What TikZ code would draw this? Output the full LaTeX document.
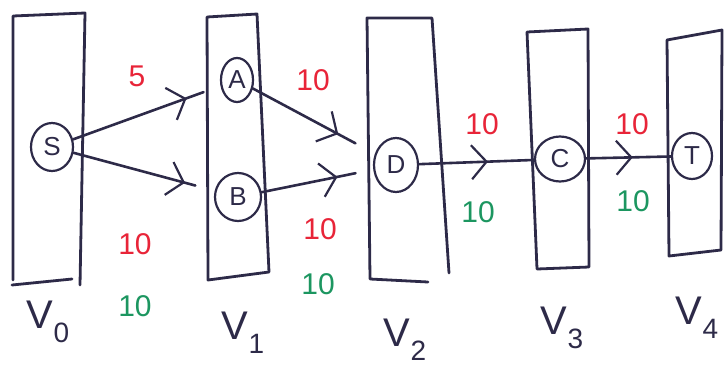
\documentclass[tikz,border=0pt]{standalone}
\usepackage{fontspec}
\setmainfont{Liberation Sans}
\usetikzlibrary{shapes.geometric,decorations.markings,arrows.meta}
\definecolor{ink}{RGB}{45,42,72}
\definecolor{capred}{RGB}{232,36,56}
\definecolor{flowgreen}{RGB}{28,150,96}
\tikzset{
  layer/.style={draw=ink, line width=2.8pt, line join=round, line cap=round},
  vtx/.style={draw=ink, line width=2.2pt, ellipse, inner sep=0pt, text=ink, font=\fontsize{26}{26}\selectfont},
  edge/.style={draw=ink, line width=2.6pt, line cap=round, postaction={decorate},
    decoration={markings, mark=at position #1 with {\arrow{Straight Barb[length=15pt,width=34pt,line width=2.2pt]}}}},
  caplabel/.style={text=capred, font=\fontsize{30}{30}\selectfont},
  flowlabel/.style={text=flowgreen, font=\fontsize{30}{30}\selectfont},
  lvl/.style={text=ink, font=\fontsize{40}{40}\selectfont}
}
\newcommand{\lvlsub}[1]{\raisebox{-0.35em}{\fontsize{28}{28}\selectfont #1}}
\begin{document}
\begin{tikzpicture}[x=1pt,y=-1pt]
  \useasboundingbox (0,0) rectangle (727,370);
  % layers of the level graph
  \draw[layer] (80,285) -- (85,13) -- (13,16) -- (13,280);
  \draw[layer] (12,285) -- (72,279);
  \draw[layer] (207,17) -- (257,14) -- (269,272) -- (208,280) -- cycle;
  \draw[layer] (449,273) -- (432,18) -- (367,18) -- (370,279) -- (428,282);
  \draw[layer] (527,32) -- (588,29) -- (589,267) -- (537,269) -- cycle;
  \draw[layer] (667,40) -- (722,30) -- (721,250) -- (669,256) -- cycle;
  % vertices
  \node[vtx, minimum width=42pt, minimum height=48pt] (S) at (52,147) {S};
  \node[vtx, minimum width=32pt, minimum height=44pt] (A) at (237,80) {A};
  \node[vtx, minimum width=46pt, minimum height=48pt] (B) at (238,197) {B};
  \node[vtx, minimum width=44pt, minimum height=54pt] (D) at (396,165) {D};
  \node[vtx, minimum width=50pt, minimum height=45pt] (C) at (560,159) {C};
  \node[vtx, minimum width=40pt, minimum height=46pt] (T) at (692,156) {T};
  % edges
  \draw[edge=0.77, shorten >=18pt] (S) -- (A);
  \draw[edge=0.79, shorten >=20pt] (S) -- (B);
  \draw[edge=0.7, shorten >=22pt] (A) -- (D);
  \draw[edge=0.68, shorten >=18pt] (B) -- (D);
  \draw[edge=0.6] (D) -- (C);
  \draw[edge=0.55] (C) -- (T);
  % capacities and flows
  \node[caplabel] (c1) at (137,76) {5};
  \node[caplabel] (c2) at (135,244) {10};
  \node[flowlabel] (f2) at (135,306) {10};
  \node[caplabel] (c3) at (313,80) {10};
  \node[caplabel] (c4) at (320,229) {10};
  \node[flowlabel] (f4) at (318,284) {10};
  \node[caplabel] (c5) at (482,124) {10};
  \node[flowlabel] (f5) at (478,212) {10};
  \node[caplabel] (c6) at (632,124) {10};
  \node[flowlabel] (f6) at (633,201) {10};
  % layer names
  \node[lvl] (L0) at (48,322) {V\lvlsub{0}};
  \node[lvl] (L1) at (243,333) {V\lvlsub{1}};
  \node[lvl] (L2) at (405,340) {V\lvlsub{2}};
  \node[lvl] (L3) at (562,328) {V\lvlsub{3}};
  \node[lvl] (L4) at (697,318) {V\lvlsub{4}};
\end{tikzpicture}
\end{document}
